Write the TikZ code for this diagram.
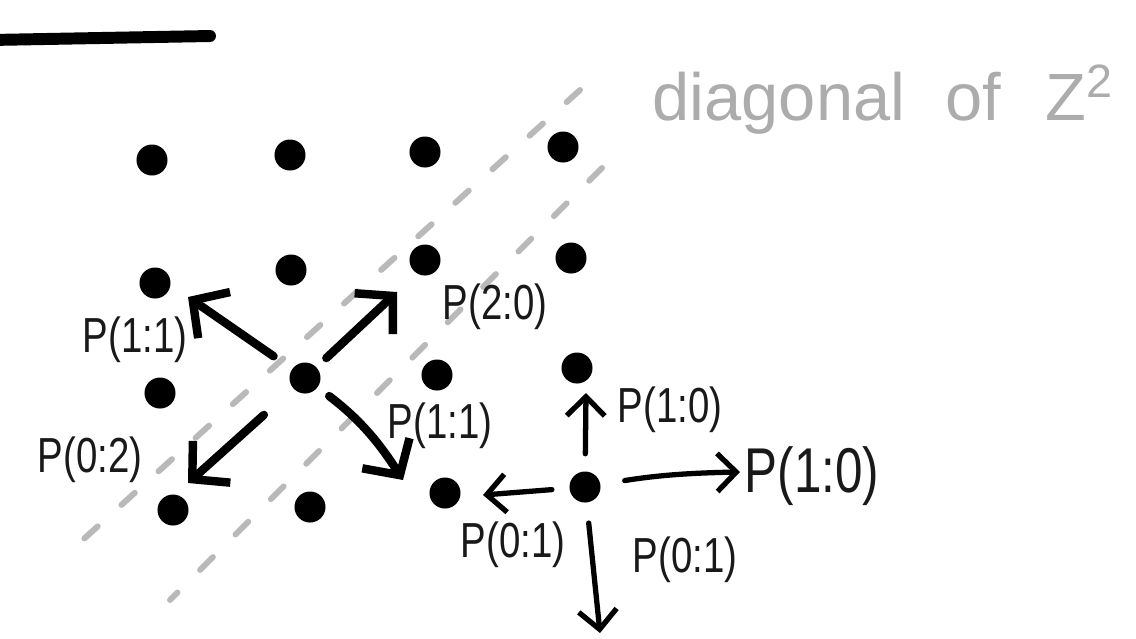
\documentclass[tikz,border=0pt]{standalone}
\usepackage{fontspec}
\usepackage{graphicx}
\setmainfont{Liberation Sans}
\usetikzlibrary{arrows.meta}
\tikzset{
    dot/.style={
        circle,
        fill=black,
        inner sep=0pt,
        minimum size=3.1mm
    },
    lbl/.style={
        inner sep=0pt,
        text=black!90,
        font=\fontsize{14}{14}\selectfont
    },
    biglbl/.style={
        inner sep=0pt,
        text=black!90,
        font=\fontsize{18}{18}\selectfont
    },
    bigarrow/.style={-{Straight Barb[length=2.6mm, width=5.6mm]}, line width=2.4pt, line cap=round},
    smallarrow/.style={-{Straight Barb[length=1.9mm, width=3.8mm]}, line width=1.5pt, line cap=round},
    diag/.style={gray!55, line width=1.7pt, line cap=round, dash pattern=on 1.8mm off 3.2mm}
}
\newcommand{\hand}[1]{\scalebox{0.78}[1]{#1}}

\begin{document}
\begin{tikzpicture}[x=0.01cm, y=-0.01cm]
    \useasboundingbox (0,0) rectangle (1136,638);
    % underline of the heading
    \draw[line width=3.4pt, line cap=round] (-10,40) -- (210,36);

    % the two diagonals
    \coordinate (da1) at (580,90);
    \coordinate (da2) at (76,546);
    \coordinate (db1) at (602,168);
    \coordinate (db2) at (170,600);
    \draw[diag] (da1) -- (da2);
    \draw[diag] (db1) -- (db2);
    \node[anchor=base west, inner sep=0pt, text=gray!65, font=\fontsize{19}{19}\selectfont] (diagtext) at (652,120)
        {diagonal\hspace{4mm}of\hspace{4.5mm}Z\textsuperscript{2}};

    % lattice points
    \foreach \n/\x/\y in {00/152/160, 10/290/155, 20/425/152, 30/563/147,
                          01/155/283, 11/291/270, 21/425/260, 31/571/258,
                          02/160/393, 12/305/378, 22/437/375, 32/577/368,
                          03/173/510, 13/310/507, 23/445/493, 33/585/487}
        \node[dot] (d\n) at (\x,\y) {};

    % steps from the middle point
    \coordinate (tul) at (188,297);
    \coordinate (tur) at (397,292);
    \coordinate (tdl) at (188,483);
    \coordinate (tdr) at (403,480);
    \draw[bigarrow, shorten <=2.2mm] (d12) -- (tul);
    \draw[bigarrow, shorten <=1.3mm] (d12) -- (tur);
    \draw[bigarrow, shorten <=3.9mm] (d12) -- (tdl);
    \draw[bigarrow, shorten <=1.4mm] (d12) to[bend left=10] (tdr);

    \node[lbl] (p11a) at (135,340) {\hand{P(1:1)}};
    \node[lbl] (p20) at (495,307) {\hand{P(2:0)}};
    \node[lbl] (p02) at (90,460) {\hand{P(0:2)}};
    \node[lbl] (p11b) at (440,426) {\hand{P(1:1)}};

    % steps from the lower right point
    \coordinate (qu) at (586,393);
    \coordinate (ql) at (483,495);
    \coordinate (qr) at (740,472);
    \coordinate (qd) at (600,633);
    \draw[smallarrow, shorten <=1.7mm] (d33) -- (qu);
    \draw[smallarrow, shorten <=1.7mm] (d33) -- (ql);
    \draw[smallarrow, shorten <=2.4mm] (d33) to[bend left=4] (qr);
    \draw[smallarrow, shorten <=2mm] (d33) -- (qd);

    \node[lbl] (p10a) at (670,410) {\hand{P(1:0)}};
    \node[biglbl] (p10b) at (812,476) {\hand{P(1:0)}};
    \node[lbl] (p01a) at (513,545) {\hand{P(0:1)}};
    \node[lbl] (p01b) at (685,560) {\hand{P(0:1)}};
\end{tikzpicture}
\end{document}
